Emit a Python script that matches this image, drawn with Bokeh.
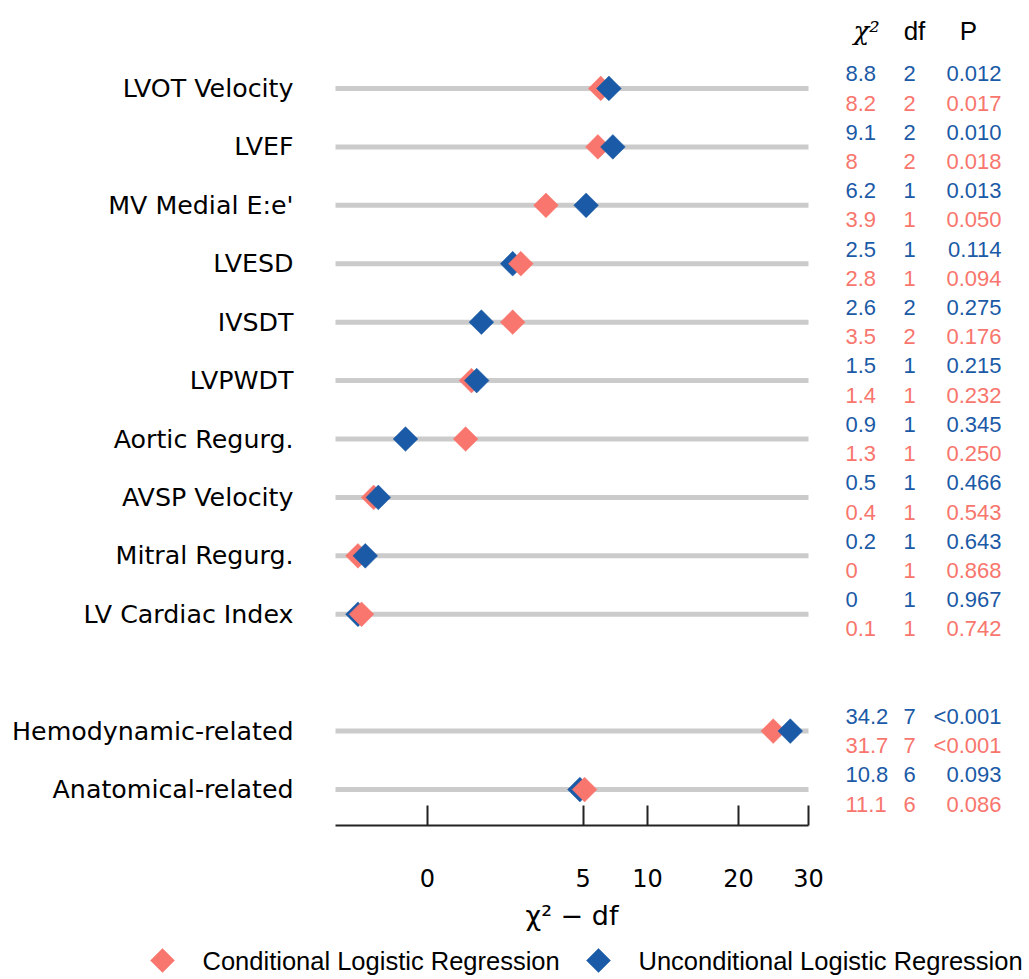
import numpy as np
from bokeh.plotting import figure
from bokeh.models import Range1d, FixedTicker, ColumnDataSource
from bokeh.core.properties import value
from bokeh.embed import file_html
from bokeh.resources import INLINE

# ---------------- data ----------------
labels = ["LVOT Velocity", "LVEF", "MV Medial E:e'", "LVESD", "IVSDT", "LVPWDT",
          "Aortic Regurg.", "AVSP Velocity", "Mitral Regurg.", "LV Cardiac Index",
          "Hemodynamic-related", "Anatomical-related"]
rows = [0, 1, 2, 3, 4, 5, 6, 7, 8, 9, 11, 12]

uncond_chi2 = [8.8, 9.1, 6.2, 2.5, 2.6, 1.5, 0.9, 0.5, 0.2, 0, 34.2, 10.8]
uncond_df = [2, 2, 1, 1, 2, 1, 1, 1, 1, 1, 7, 6]
uncond_p = ["0.012", "0.010", "0.013", "0.114", "0.275", "0.215", "0.345",
            "0.466", "0.643", "0.967", "<0.001", "0.093"]

cond_chi2 = [8.2, 8, 3.9, 2.8, 3.5, 1.4, 1.3, 0.4, 0, 0.1, 31.7, 11.1]
cond_df = [2, 2, 1, 1, 2, 1, 1, 1, 1, 1, 7, 6]
cond_p = ["0.017", "0.018", "0.050", "0.094", "0.176", "0.232", "0.250",
          "0.543", "0.868", "0.742", "<0.001", "0.086"]

tick_values = [0, 5, 10, 20, 30]
headers = ["χ²", "df", "P"]
legend_labels = ["Conditional Logistic Regression", "Unconditional Logistic Regression"]

RED = "#F8766D"
BLUE = "#1B5AA6"


def ssqrt(v):
    v = np.asarray(v, dtype=float)
    return np.sign(v) * np.sqrt(np.abs(v))


# ---------------- figure ----------------
W, H = 1025, 975
PX = 69.56                     # pixels per signed-sqrt unit
ROW = 58.42                    # pixels per row
X_LO = -1.3226                 # left end of the axis (signed-sqrt units)
X_HI = float(ssqrt(30))        # right end of the axis
Y_TOP = -1.506
Y_AXIS = 12.615                # where the x axis sits
x0 = X_LO - 335 / PX


def sx(px):   # screen x (pixels) -> data x, for layout of annotations
    return x0 + px / PX


def sy(py):   # screen y (pixels) -> data y
    return Y_TOP + py / ROW


p = figure(width=W, height=H, output_backend="svg", toolbar_location=None,
           x_range=Range1d(x0, x0 + W / PX),
           y_range=Range1d(Y_TOP + H / ROW, Y_TOP),
           min_border_left=0, min_border_right=0, min_border_top=0,
           min_border_bottom=0)
p.outline_line_color = None
p.grid.visible = False
p.background_fill_color = "white"

# grey guide lines
p.segment(x0=X_LO, x1=X_HI, y0=rows, y1=rows, line_width=5, line_color="#CBCBCB")

# points (drawn in order of position so the rightmost lies on top)
u_x = ssqrt(np.array(uncond_chi2) - np.array(uncond_df))
c_x = ssqrt(np.array(cond_chi2) - np.array(cond_df))
all_x = np.concatenate([c_x, u_x])
all_y = np.array(rows + rows, dtype=float)
all_c = np.array([RED] * len(rows) + [BLUE] * len(rows))
order = np.argsort(all_x, kind="stable")
pts = ColumnDataSource(dict(x=all_x[order], y=all_y[order], color=all_c[order]))
p.scatter("x", "y", source=pts, marker="square", angle=np.pi / 4, size=17.5,
          fill_color="color", line_color="color", line_width=0.5)

# axes (drawn at fixed places inside the frame)
xa = p.xaxis[0]
xa.fixed_location = Y_AXIS
xa.bounds = (X_LO, X_HI)
xa.ticker = FixedTicker(ticks=list(ssqrt(tick_values)))
xa.major_label_overrides = {float(t): str(v) for t, v in zip(ssqrt(tick_values), tick_values)}
xa.major_tick_in = 20
xa.major_tick_out = 0
xa.minor_tick_in = 0
xa.minor_tick_out = 0
xa.axis_line_width = 2
xa.major_tick_line_width = 2
xa.axis_line_color = "#222222"
xa.major_tick_line_color = "#222222"
xa.major_label_standoff = 44
xa.major_label_text_font = "DejaVu Sans"
xa.major_label_text_font_size = "24px"
xa.major_label_text_color = "black"
xa.axis_label = "χ² − df"
xa.axis_label_text_font = "DejaVu Sans"
xa.axis_label_text_font_size = "27px"
xa.axis_label_text_font_style = "normal"
xa.axis_label_text_color = "black"
xa.axis_label_standoff = 9

ya = p.yaxis[0]
ya.fixed_location = X_LO
ya.ticker = FixedTicker(ticks=rows)
ya.major_label_overrides = {rw: lb for rw, lb in zip(rows, labels)}
ya.axis_line_color = None
ya.major_tick_line_color = None
ya.minor_tick_line_color = None
ya.major_tick_in = 0
ya.major_tick_out = 0
ya.major_label_standoff = 42
ya.major_label_text_font = "DejaVu Sans"
ya.major_label_text_font_size = "25.3px"
ya.major_label_text_color = "black"

# ---------------- table on the right ----------------
fmt = lambda v: f"{v:g}"
tab = ColumnDataSource(dict(
    y=[rw - 0.25 for rw in rows] + [rw + 0.25 for rw in rows],
    chi=[fmt(v) for v in uncond_chi2] + [fmt(v) for v in cond_chi2],
    df=[str(v) for v in uncond_df] + [str(v) for v in cond_df],
    pv=uncond_p + cond_p,
    color=[BLUE] * len(rows) + [RED] * len(rows),
))
for col, xpos, align in [("chi", sx(845), "left"), ("df", sx(903), "left"),
                         ("pv", sx(1001), "right")]:
    p.text(x=xpos, y="y", text=col, source=tab, text_color="color",
           text_align=align, text_baseline="middle",
           text_font=value("Liberation Sans"), text_font_size=value("22px"))

hdr = ColumnDataSource(dict(x=[sx(866), sx(914), sx(968)], y=[sy(30)] * 3, text=headers,
                            font=["DejaVu Serif", "Liberation Sans", "Liberation Sans"],
                            style=["italic", "normal", "normal"]))
p.text(x="x", y="y", text="text", source=hdr, text_align="center",
       text_baseline="middle", text_color="black",
       text_font="font", text_font_style="style", text_font_size=value("26px"))

# ---------------- legend (diamond keys + labels) ----------------
leg = ColumnDataSource(dict(
    kx=[sx(162), sx(598)], tx=[sx(202), sx(638)], y=[sy(960)] * 2,
    text=legend_labels, color=[RED, BLUE]))
p.scatter("kx", "y", source=leg, marker="square", angle=np.pi / 4, size=17,
          fill_color="color", line_color="color", line_width=0.5)
p.text(x="tx", y="y", text="text", source=leg, text_align="left",
       text_baseline="middle", text_color="black",
       text_font=value("Liberation Sans"), text_font_size=value("25.5px"))

open("out.html", "w").write(file_html(p, INLINE))
